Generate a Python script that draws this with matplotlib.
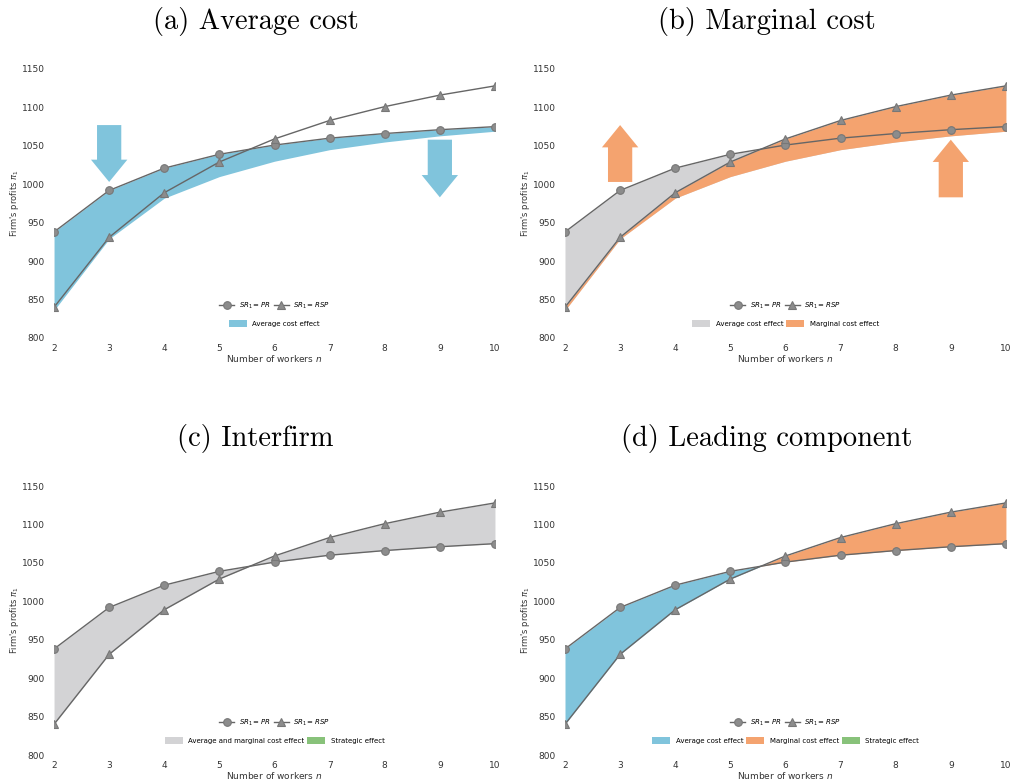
import matplotlib
matplotlib.use('Agg')
import matplotlib.pyplot as plt
import numpy as np

# Data
n_workers = [2, 3, 4, 5, 6, 7, 8, 9, 10]
profit_pr = [938, 992, 1021, 1039, 1051, 1060, 1066, 1071, 1075]
profit_rsp = [840, 931, 989, 1029, 1059, 1083, 1101, 1116, 1128]
avg_cost_level = [836, 929, 982, 1010, 1030, 1045, 1055, 1063, 1069]

titles = ['(a) Average cost', '(b) Marginal cost', '(c) Interfirm', '(d) Leading component']

c_blue = '#80c4dc'
c_orange = '#f4a36f'
c_gray = '#d3d3d5'
c_green = '#88c27a'
c_line = '#666666'
c_mark = '#8c8c8c'
c_text = '#333333'

x = np.array(n_workers)
pr = np.array(profit_pr)
rsp = np.array(profit_rsp)
avg = np.array(avg_cost_level)

fig = plt.figure(figsize=(10.12, 7.82), dpi=100)
lefts = [0.0534, 0.5583]
bottoms = [0.5678, 0.0345]
w = 0.4357
h = 0.344

axes = []
for r in range(2):
    for c in range(2):
        axes.append(fig.add_axes([lefts[c], bottoms[r], w, h]))


def base(ax, title):
    l1, = ax.plot(x, pr, '-o', color=c_line, lw=1, ms=5.5, mfc=c_mark, mec='#777777', mew=0.8, zorder=5)
    l2, = ax.plot(x, rsp, '-^', color=c_line, lw=1, ms=5.5, mfc=c_mark, mec='#777777', mew=0.8, zorder=5)
    ax.set_xlim(2, 10)
    ax.set_ylim(800, 1150)
    ax.set_xticks(n_workers)
    ax.set_yticks(range(800, 1151, 50))
    for s in ax.spines.values():
        s.set_visible(False)
    ax.tick_params(axis='x', length=0, labelsize=6.5, colors=c_text, pad=4)
    ax.tick_params(axis='y', length=0, labelsize=6.5, colors=c_text, pad=6.5)
    ax.set_xlabel('Number of workers $n$', fontsize=6.5, color=c_text, labelpad=0)
    ax.set_ylabel("Firm's profits $\\pi_1$", fontsize=6, color=c_text, labelpad=1)
    ax.set_title(title, fontsize=20.5, family='cmr10', pad=29, x=0.457)
    leg = ax.legend([l1, l2], ['$SR_1 = PR$', '$SR_1 = RSP$'], loc='center',
                    bbox_to_anchor=(0.5, 0.12), ncol=2, frameon=False, fontsize=5,
                    handlelength=2.2, columnspacing=0.5, handletextpad=0.6)
    ax.add_artist(leg)


def fill_legend(ax, handles, labels):
    ax.legend(handles, labels, loc='center', bbox_to_anchor=(0.5, 0.055), ncol=len(handles),
              frameon=False, fontsize=5, handlelength=2.6, columnspacing=0.4, handletextpad=0.8,
              handleheight=1.1)


def arrow(ax, xc, y0, y1, color):
    ax.arrow(xc, y0, 0, y1 - y0, width=0.44, head_width=0.66, head_length=29,
             length_includes_head=True, color=color, lw=0, zorder=3)


# (a) Average cost
ax = axes[0]
base(ax, titles[0])
fa = ax.fill_between(x, pr, avg, color=c_blue, lw=0, zorder=2)
arrow(ax, 3, 1077, 1003, c_blue)
arrow(ax, 9, 1058, 983, c_blue)
fill_legend(ax, [fa], ['Average cost effect'])

# (b) Marginal cost
ax = axes[1]
base(ax, titles[1])
fg = ax.fill_between(x, pr, avg, color=c_gray, lw=0, zorder=1)
fo = ax.fill_between(x, avg, rsp, color=c_orange, lw=0, zorder=2)
arrow(ax, 3, 1003, 1077, c_orange)
arrow(ax, 9, 983, 1058, c_orange)
fill_legend(ax, [fg, fo], ['Average cost effect', 'Marginal cost effect'])

# (c) Interfirm
ax = axes[2]
base(ax, titles[2])
fg = ax.fill_between(x, pr, rsp, color=c_gray, lw=0, zorder=1)
fs = ax.fill_between(x, rsp, rsp, color=c_green, lw=0, zorder=2)
fill_legend(ax, [fg, fs], ['Average and marginal cost effect', 'Strategic effect'])

# (d) Leading component
ax = axes[3]
base(ax, titles[3])
fb = ax.fill_between(x, pr, rsp, where=pr >= rsp, interpolate=True, color=c_blue, lw=0, zorder=2)
fo = ax.fill_between(x, pr, rsp, where=rsp >= pr, interpolate=True, color=c_orange, lw=0, zorder=2)
fs = ax.fill_between(x, rsp, rsp, color=c_green, lw=0, zorder=2)
fill_legend(ax, [fb, fo, fs], ['Average cost effect', 'Marginal cost effect', 'Strategic effect'])

plt.savefig('out.png', dpi=100)
